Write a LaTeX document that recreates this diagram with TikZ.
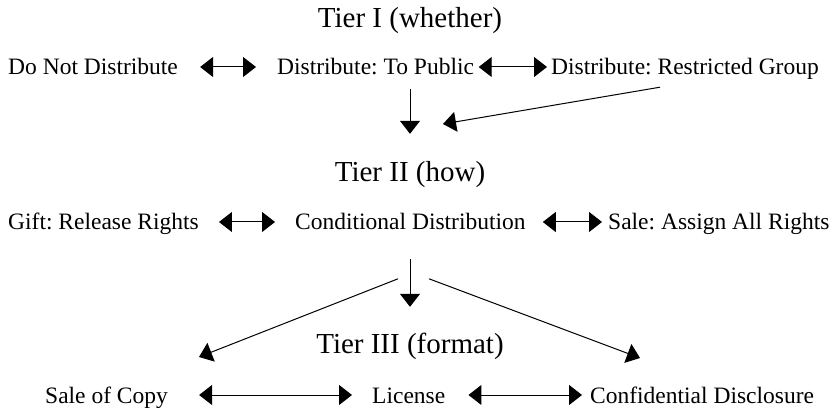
\documentclass[tikz,border=0pt]{standalone}
\usepackage{fontspec}
\setmainfont{Liberation Serif}
\frenchspacing
\usetikzlibrary{arrows.meta,calc}

\begin{document}
\begin{tikzpicture}[x=1pt, y=1pt,
    tier/.style={inner sep=0pt, font=\fontsize{29}{32}\selectfont, text height=20pt, text depth=0pt},
    choice/.style={inner sep=0pt, anchor=west, font=\fontsize{23.5}{26}\selectfont, text height=16pt, text depth=0pt},
    pil/.style={-{Triangle[length=13pt, width=20pt]}, line width=1pt},
    dbl/.style={{Triangle[length=13pt, width=20pt]}-{Triangle[length=13pt, width=20pt]}, line width=1pt}]
  \useasboundingbox (0,0) rectangle (838,410);

  % the three tiers
  \node[tier] (t1) at (410,392) {Tier I (whether)};
  \node[tier] (t2) at (410,238) {Tier II (how)};
  \node[tier] (t3) at (410,67) {Tier III (format)};

  % tier I choices
  \node[choice] (nodist) at (8,343) {Do Not Distribute};
  \node[choice] (public) at (277,343) {Distribute: To Public};
  \node[choice] (group) at (551,343) {Distribute: Restricted Group};

  % tier II choices
  \node[choice] (gift) at (8,188) {Gift: Release Rights};
  \node[choice] (cond) at (295,188) {Conditional Distribution};
  \node[choice] (sale) at (608,188) {Sale: Assign All Rights};

  % tier III choices
  \node[choice] (copy) at (45,15) {Sale of Copy};
  \node[choice] (lic) at (372,15) {License};
  \node[choice] (conf) at (590,15) {Confidential Disclosure};

  % alternatives within a tier
  \draw[dbl, shorten <=22pt, shorten >=21pt] (nodist) -- (public);
  \draw[dbl, shorten <=4.5pt, shorten >=4pt] (public) -- (group);
  \draw[dbl, shorten <=20pt, shorten >=20pt] (gift) -- (cond);
  \draw[dbl, shorten <=17pt, shorten >=6pt] (cond) -- (sale);
  \draw[dbl, shorten <=31pt, shorten >=20pt] (copy) -- (lic);
  \draw[dbl, shorten <=23pt, shorten >=8pt] (lic) -- (conf);

  % from one tier down to the next
  \coordinate (q1) at (443,286);
  \coordinate (q2) at (199,53);
  \coordinate (q3) at (640,52);
  \draw[pil, shorten <=14pt, shorten >=28pt] (public.south -| t2.north) -- (t2.north);
  \draw[pil] ([shift={(-25,-12)}]group.south) -- (q1);
  \draw[pil, shorten <=29pt, shorten >=26pt] (cond.south -| t3.north) -- (t3.north);
  \draw[pil] ([shift={(-12,54)}]t3.north) -- (q2);
  \draw[pil] ([shift={(19,54)}]t3.north) -- (q3);
\end{tikzpicture}
\end{document}
